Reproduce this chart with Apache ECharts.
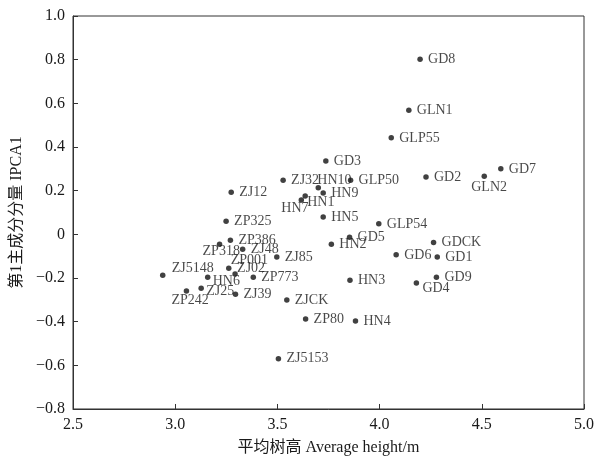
<!DOCTYPE html>
<html>
<head>
<meta charset="utf-8">
<script src="https://cdn.jsdelivr.net/npm/echarts@6/dist/echarts.min.js"></script>
<style>
html, body { margin: 0; padding: 0; background: #fff; }
#main { width: 597px; height: 461px; }
</style>
</head>
<body>
<div id="main"></div>
<script>
// 样地名称
var names = ['GD8', 'GLN1', 'GLP55', 'GD3', 'ZJ32', 'HN10', 'GLP50', 'HN9', 'ZJ12', 'HN1',
  'HN7', 'GD7', 'GLN2', 'GD2', 'HN5', 'ZP325', 'GLP54', 'GD5', 'HN2', 'GDCK',
  'ZP386', 'ZP318', 'ZJ48', 'ZJ85', 'GD6', 'GD1', 'ZP001', 'ZJ02', 'ZJ5148', 'HN6',
  'ZP773', 'HN3', 'GD9', 'GD4', 'ZJ25', 'ZP242', 'ZJ39', 'ZJCK', 'ZP80', 'HN4', 'ZJ5153']
// 平均树高 (m)
var heights = [4.198, 4.143, 4.057, 3.737, 3.528, 3.700, 3.858, 3.724, 3.274, 3.636,
  3.617, 4.593, 4.512, 4.227, 3.724, 3.249, 3.996, 3.853, 3.764, 4.264,
  3.270, 3.217, 3.330, 3.497, 4.081, 4.282, 3.262, 3.293, 2.939, 3.159,
  3.382, 3.855, 4.278, 4.180, 3.127, 3.055, 3.295, 3.546, 3.638, 3.882, 3.505]
// 第1主成分分量 IPCA1
var ipca1 = [0.802, 0.568, 0.442, 0.336, 0.248, 0.213, 0.248, 0.189, 0.193, 0.176,
  0.157, 0.300, 0.266, 0.263, 0.079, 0.060, 0.048, -0.013, -0.045, -0.037,
  -0.027, -0.045, -0.068, -0.104, -0.094, -0.104, -0.155, -0.182, -0.187, -0.196,
  -0.196, -0.210, -0.196, -0.223, -0.247, -0.260, -0.274, -0.301, -0.388, -0.397, -0.570]
var xTicks = [2.5, 3.0, 3.5, 4.0, 4.5, 5.0]
var yTicks = [-0.8, -0.6, -0.4, -0.2, 0, 0.2, 0.4, 0.6, 0.8, 1.0]

// 标签相对点的位置 [dx, dy]，默认在右侧
var labelShift = {
  HN10: [-1, -8], HN1: [2, 6], HN7: [-20, 8], ZP318: [-17, 7],
  ZP001: [2, -8], ZJ02: [2, -6], ZJ5148: [9, -7], HN6: [5, 4],
  ZJ25: [5, 3], ZP242: [-15, 9], GLN2: [-13, 11], GD4: [6, 5]
}

var symSize = 5.5
var fontFam = '"Liberation Serif", "Times New Roman", serif'
var axisColor = '#333'
var textColor = '#1a1a1a'

var points = names.map(function (n, i) {
  var s = labelShift[n] || [8, 0]
  return {
    name: n,
    value: [heights[i], ipca1[i]],
    label: { position: [symSize / 2 + s[0], symSize / 2 + s[1]] }
  }
})

function fmtY(v) {
  if (Math.abs(v) < 1e-9) return '0'
  var s = v.toFixed(1)
  return s.replace('-', '\u2212')
}

var chart = echarts.init(document.getElementById('main'))
chart.setOption({
  animation: false,
  grid: {
    left: 73, right: 10, top: 16, bottom: 52,
    show: true,
    borderColor: axisColor,
    borderWidth: 1
  },
  xAxis: {
    type: 'value',
    min: xTicks[0],
    max: xTicks[xTicks.length - 1],
    interval: 0.5,
    name: '平均树高 Average height/m',
    nameLocation: 'middle',
    nameGap: 31,
    nameTextStyle: { fontSize: 16, color: textColor, fontFamily: fontFam + ', "Noto Sans CJK SC"' },
    axisLine: { onZero: false, lineStyle: { color: axisColor, width: 1 } },
    axisTick: { inside: true, length: 5, lineStyle: { color: axisColor } },
    axisLabel: {
      fontSize: 16, color: textColor, fontFamily: fontFam, margin: 8,
      formatter: function (v) { return v.toFixed(1) }
    },
    splitLine: { show: false }
  },
  yAxis: {
    type: 'value',
    min: yTicks[0],
    max: yTicks[yTicks.length - 1],
    interval: 0.2,
    name: '第1主成分分量 IPCA1',
    nameLocation: 'middle',
    nameGap: 44,
    nameTextStyle: { fontSize: 16, color: textColor, fontFamily: fontFam + ', "Noto Sans CJK SC"' },
    axisLine: { onZero: false, lineStyle: { color: axisColor, width: 1 } },
    axisTick: { inside: true, length: 5, lineStyle: { color: axisColor } },
    axisLabel: {
      fontSize: 16, color: textColor, fontFamily: fontFam, margin: 8,
      formatter: fmtY
    },
    splitLine: { show: false }
  },
  series: [{
    type: 'scatter',
    symbolSize: symSize,
    itemStyle: { color: '#111' },
    label: {
      show: true,
      formatter: '{b}',
      align: 'left',
      verticalAlign: 'middle',
      fontSize: 14,
      color: textColor,
      fontFamily: fontFam
    },
    labelLayout: { hideOverlap: false },
    data: points
  }]
})
</script>
</body>
</html>
